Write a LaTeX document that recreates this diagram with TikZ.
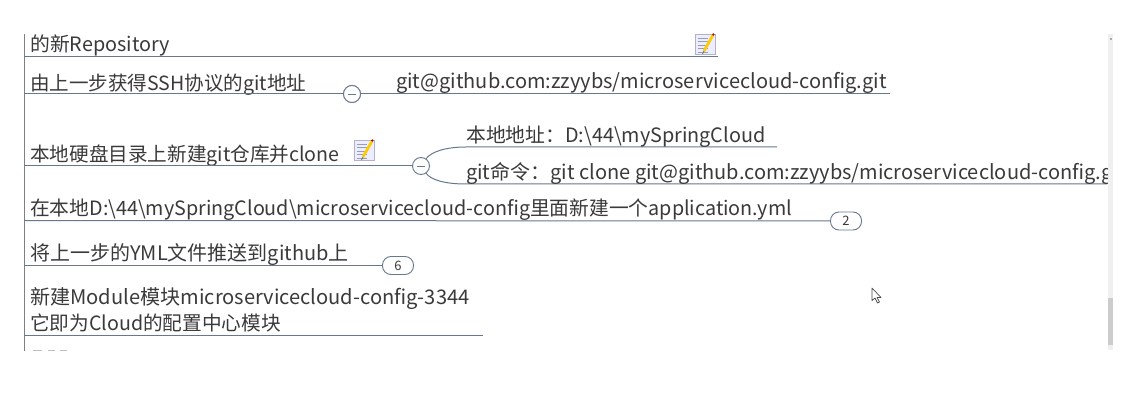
\documentclass[tikz,border=0pt]{standalone}
\usepackage{fontspec}
\setmainfont{Noto Sans CJK SC}
\definecolor{ln}{HTML}{66788E}
\definecolor{tx}{HTML}{3A3A3A}
\tikzset{
  x=1pt,y=-1pt,
  lbl/.style={anchor=base west,inner sep=0pt,text=tx,font=\fontsize{#1}{24}\selectfont},
  lbl/.default=19.8,
  link/.style={draw=ln,line width=1pt},
  fold/.style={circle,draw=ln,line width=0.9pt,fill=white,minimum size=17pt,inner sep=0pt},
  badge/.style={rounded corners=8.5pt,draw=ln,line width=0.9pt,fill=white,minimum width=31pt,minimum height=18pt,inner sep=0pt,text=tx,font=\fontsize{13}{13}\selectfont},
  noteicon/.pic={
    \fill[blue!7!white,draw=blue!35!black!30!white,line width=.7pt] (-10,-10) rectangle (10,10);
    \foreach \yy in {-6,-2.5,1,4.5,8}{\draw[ln!70!white,line width=.9pt] (-7.5,\yy)--(3,\yy);}
    \draw[yellow!65!orange,line width=2.8pt] (-1,7)--(8,-9);
    \draw[black!55,line width=.7pt] (-2.5,10)--(-1,7);
    \fill[red!70!black] (8.3,-9.5) circle (1.3);
  }
}
\begin{document}
\begin{tikzpicture}
\useasboundingbox (0,0) rectangle (1140,403);
\fill[white] (0,0) rectangle (1140,403);
% scrollbar
\fill[black!6] (1108,34) rectangle (1113,350);
\fill[black!20] (1108,298) rectangle (1113,345);
\fill[black!60] (1111,39) circle (.9);
% clipped canvas
\begin{scope}
\clip (0,34) rectangle (1107,351);
\coordinate (spineT) at (24,34);
\coordinate (spineB) at (24,351);
\draw[draw=black!50,line width=1pt] (spineT) -- (spineB);
% faint tops of the row cut off below
\foreach \xa/\xb in {33/42,48/55,60/67}{\draw[black!25,line width=1pt] (\xa,350.5)--(\xb,350.5);}
% row 1
\node[lbl] (r1) at (30,51.5) {的新Repository};
\coordinate (r1a) at (24,57); \coordinate (r1b) at (718,57);
\draw[link] (r1a) -- (r1b);
\pic at (705,44) {noteicon};
% row 2
\node[lbl=19.55] (r2) at (30,91) {由上一步获得SSH协议的git地址};
\node[fold] (f2) at (352,94) {};
\coordinate (r2a) at (24,94); \coordinate (r2b) at (890,94);
\draw[link] (r2a) -- (f2) -- (r2b);
\node[fold] at (352,94) {};
\draw[ln,line width=.9pt] (348,94.5)--(356,94.5);
\node[lbl=20] (r2t) at (396,89) {git@github.com:zzyybs/microservicecloud-config.git};
% row 3
\node[lbl=19.6] (r3) at (30,162) {本地硬盘目录上新建git仓库并clone};
\pic at (364,150) {noteicon};
\coordinate (r3a) at (24,166);
\node[fold] (f3) at (421,166) {};
\draw[ln,line width=.9pt] (417,166.5)--(425,166.5);
\draw[link] (r3a) -- (f3);
\coordinate (t1) at (777,147); \coordinate (t2) at (1107,184);
\draw[link] (f3.55) .. controls (431,152) and (445,147) .. (466,147) -- (t1);
\draw[link] (f3.-55) .. controls (431,180) and (445,184) .. (466,184) -- (t2);
\node[lbl] (r3t1) at (466,142.5) {本地地址：D:\textbackslash 44\textbackslash mySpringCloud};
\node[lbl=20] (r3t2) at (466,180) {git命令：git clone git@github.com:zzyybs/microservicecloud-config.git};
% row 4
\node[lbl=19.75] (r4) at (30,215.5) {在本地D:\textbackslash 44\textbackslash mySpringCloud\textbackslash microservicecloud-config里面新建一个application.yml};
\coordinate (r4a) at (24,220.5);
\node[badge] (b4) at (846,221) {2};
\draw[link] (r4a) -- (b4);
% row 5
\node[lbl=20] (r5) at (30,260.5) {将上一步的YML文件推送到github上};
\coordinate (r5a) at (24,265.5);
\node[badge] (b5) at (398,265.5) {6};
\draw[link] (r5a) -- (b5);
% row 6
\node[lbl=20.1] (r6a) at (30,305) {新建Module模块microservicecloud-config-3344};
\node[lbl=19.65] (r6b) at (30,330.5) {它即为Cloud的配置中心模块};
\coordinate (r6l) at (24,335.5); \coordinate (r6r) at (483,335.5);
\draw[link] (r6l) -- (r6r);
\end{scope}
% cursor
\draw[black!70,fill=white,line width=.7pt,line join=round] (872,288) -- (872,300.5) -- (875,298) -- (877.5,303) -- (879.5,302) -- (877,297.5) -- (881,297.5) -- cycle;
\end{tikzpicture}
\end{document}
